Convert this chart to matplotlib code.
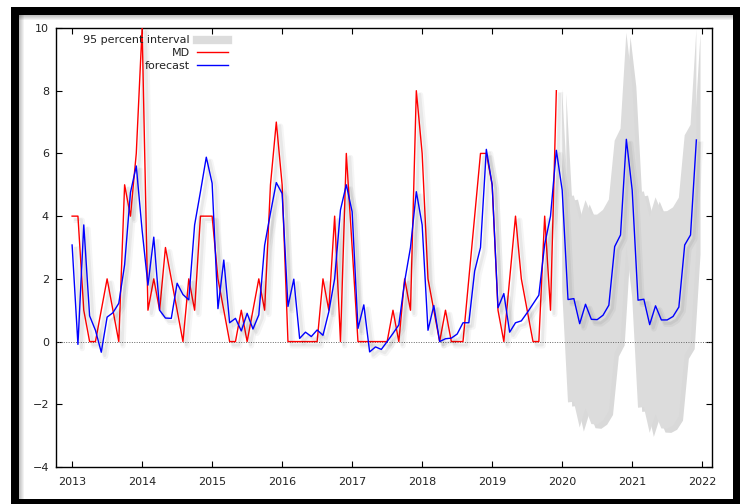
"""
Monthly MD series with the forecast line and its 95 percent interval
(gretl style plot, forecast from 2020:01 to 2021:12).
"""

import numpy as np
import matplotlib
matplotlib.use("Agg")
import matplotlib.pyplot as plt
import matplotlib.patheffects as pe
from matplotlib.patches import Rectangle
from matplotlib.lines import Line2D

# ---- data (monthly, first observation 2013:01) ----
start_year = 2013

md_values = [4, 4, 1, 0, 0, 1, 2, 1, 0, 5, 4, 6,
             10, 1, 2, 1, 3, 2, 1, 0, 2, 1, 4, 4,
             4, 2, 1, 0, 0, 1, 0, 1, 2, 1, 5, 7,
             5, 0, 0, 0, 0, 0, 0, 2, 1, 4, 0, 6,
             3, 0, 0, 0, 0, 0, 0, 1, 0, 2, 1, 8,
             6, 2, 1, 0, 1, 0, 0, 0, 2, 4, 6, 6,
             5, 1, 0, 2, 4, 2, 1, 0, 0, 4, 1, 8]

forecast_values = [3.08, -0.09, 3.72, 0.82, 0.36, -0.34, 0.78, 0.92, 1.22, 2.45, 4.75, 5.60,
                   3.55, 1.80, 3.33, 1.00, 0.75, 0.74, 1.86, 1.50, 1.33, 3.72, 4.78, 5.88,
                   5.05, 1.05, 2.60, 0.60, 0.74, 0.34, 0.90, 0.40, 0.85, 3.07, 4.10, 5.07,
                   4.72, 1.12, 1.99, 0.10, 0.30, 0.16, 0.37, 0.20, 0.95, 2.00, 4.20, 5.00,
                   4.14, 0.42, 1.17, -0.33, -0.17, -0.25, 0.00, 0.26, 0.53, 1.92, 3.00, 4.78,
                   3.72, 0.36, 1.15, 0.00, 0.09, 0.11, 0.24, 0.60, 0.60, 2.25, 3.00, 6.13,
                   5.00, 1.08, 1.53, 0.30, 0.60, 0.66, 0.92, 1.20, 1.48, 3.10, 4.00, 6.10,
                   4.83, 1.34, 1.37, 0.57, 1.19, 0.71, 0.70, 0.84, 1.16, 3.03, 3.40, 6.45,
                   4.83, 1.32, 1.35, 0.54, 1.14, 0.69, 0.69, 0.80, 1.10, 3.08, 3.40, 6.43]

# 95 percent interval, 2020:01 - 2021:12
interval_start = 84
interval_lower = [1.61, -1.94, -1.92, -2.74, -2.13, -2.63, -2.65, -2.52, -2.21, -0.35, 0.01, 3.05,
                  1.41, -2.11, -2.09, -2.91, -2.32, -2.77, -2.78, -2.68, -2.39, -0.42, -0.11, 2.91]
interval_upper = [8.05, 4.62, 4.66, 3.88, 4.51, 4.05, 4.05, 4.20, 4.53, 6.41, 6.79, 9.85,
                  8.25, 4.75, 4.79, 3.99, 4.60, 4.15, 4.16, 4.28, 4.59, 6.58, 6.91, 9.95]

year_ticks = list(range(2013, 2023))
value_ticks = list(range(-4, 11, 2))

# time axis as fractional years
t_md = start_year + np.arange(len(md_values)) / 12
t_fc = start_year + np.arange(len(forecast_values)) / 12
t_band = start_year + (interval_start + np.arange(len(interval_lower))) / 12

band_col = '#dcdcdc'
# soft drop shadow: two faint offset copies
shadow_line = [pe.SimpleLineShadow(offset=(3, -3), shadow_color='k', alpha=0.04, linewidth=4),
               pe.SimpleLineShadow(offset=(2.5, -2.5), shadow_color='k', alpha=0.05, linewidth=2),
               pe.Normal()]

fig = plt.figure(figsize=(7.4, 5.04), dpi=100)

# thick black frame round the whole picture
fig.add_artist(Rectangle((11 / 740, 0), 1, 497 / 504, transform=fig.transFigure,
                         facecolor='black', edgecolor='none', zorder=-3))
fig.add_artist(Rectangle((19 / 740, 5 / 504), 714 / 740, 484 / 504, transform=fig.transFigure,
                         facecolor='white', edgecolor='none', zorder=-2))
for k in range(6):
    # soft inner shadow under the top and left black edges
    fig.add_artist(Rectangle((19 / 740, (489 - k) / 504), 714 / 740, k / 504, transform=fig.transFigure,
                             facecolor='black', alpha=0.05, edgecolor='none', zorder=-1))
    fig.add_artist(Rectangle((19 / 740, 5 / 504), k / 740, 484 / 504, transform=fig.transFigure,
                             facecolor='black', alpha=0.05, edgecolor='none', zorder=-1))

ax = fig.add_axes([56 / 740, 37 / 504, 656 / 740, 439 / 504])

ax.fill_between(t_band, interval_lower, interval_upper, color=band_col, lw=0, zorder=1,
                path_effects=[pe.withSimplePatchShadow(offset=(3, -3), shadow_rgbFace='k', alpha=0.15)])
ax.axhline(0, color='#666666', lw=0.7, ls=(0, (1, 1.5)), zorder=2)
ax.plot(t_md, md_values, color='red', lw=1.0, zorder=3, path_effects=shadow_line)
ax.plot(t_fc, forecast_values, color='blue', lw=1.0, zorder=4, path_effects=shadow_line)

ax.set_xlim(2012.77, 2022.14)
ax.set_ylim(-4, 10)
ax.set_xticks(year_ticks)
ax.set_yticks(value_ticks)
ax.tick_params(direction='in', top=True, right=True, length=4, width=0.8,
               labelsize=8, labelcolor='#222222')
ax.tick_params(axis='x', pad=7)
ax.tick_params(axis='y', pad=5)
for s in ax.spines.values():
    s.set_linewidth(1.0)

# gretl style key: label on the left, sample on the right
handles = [Line2D([0], [0], color=band_col, lw=6),
           Line2D([0], [0], color='red', lw=1.0),
           Line2D([0], [0], color='blue', lw=1.0)]
labels = ['95 percent interval', 'MD', 'forecast']
ax.legend(handles, labels, loc='upper right', bbox_to_anchor=(0.262, 0.983), markerfirst=False,
          frameon=False, fontsize=8, handlelength=2.8, handletextpad=0.6, labelspacing=0.25,
          borderpad=0, borderaxespad=0, labelcolor='#222222')

fig.savefig('out.png', dpi=100)
